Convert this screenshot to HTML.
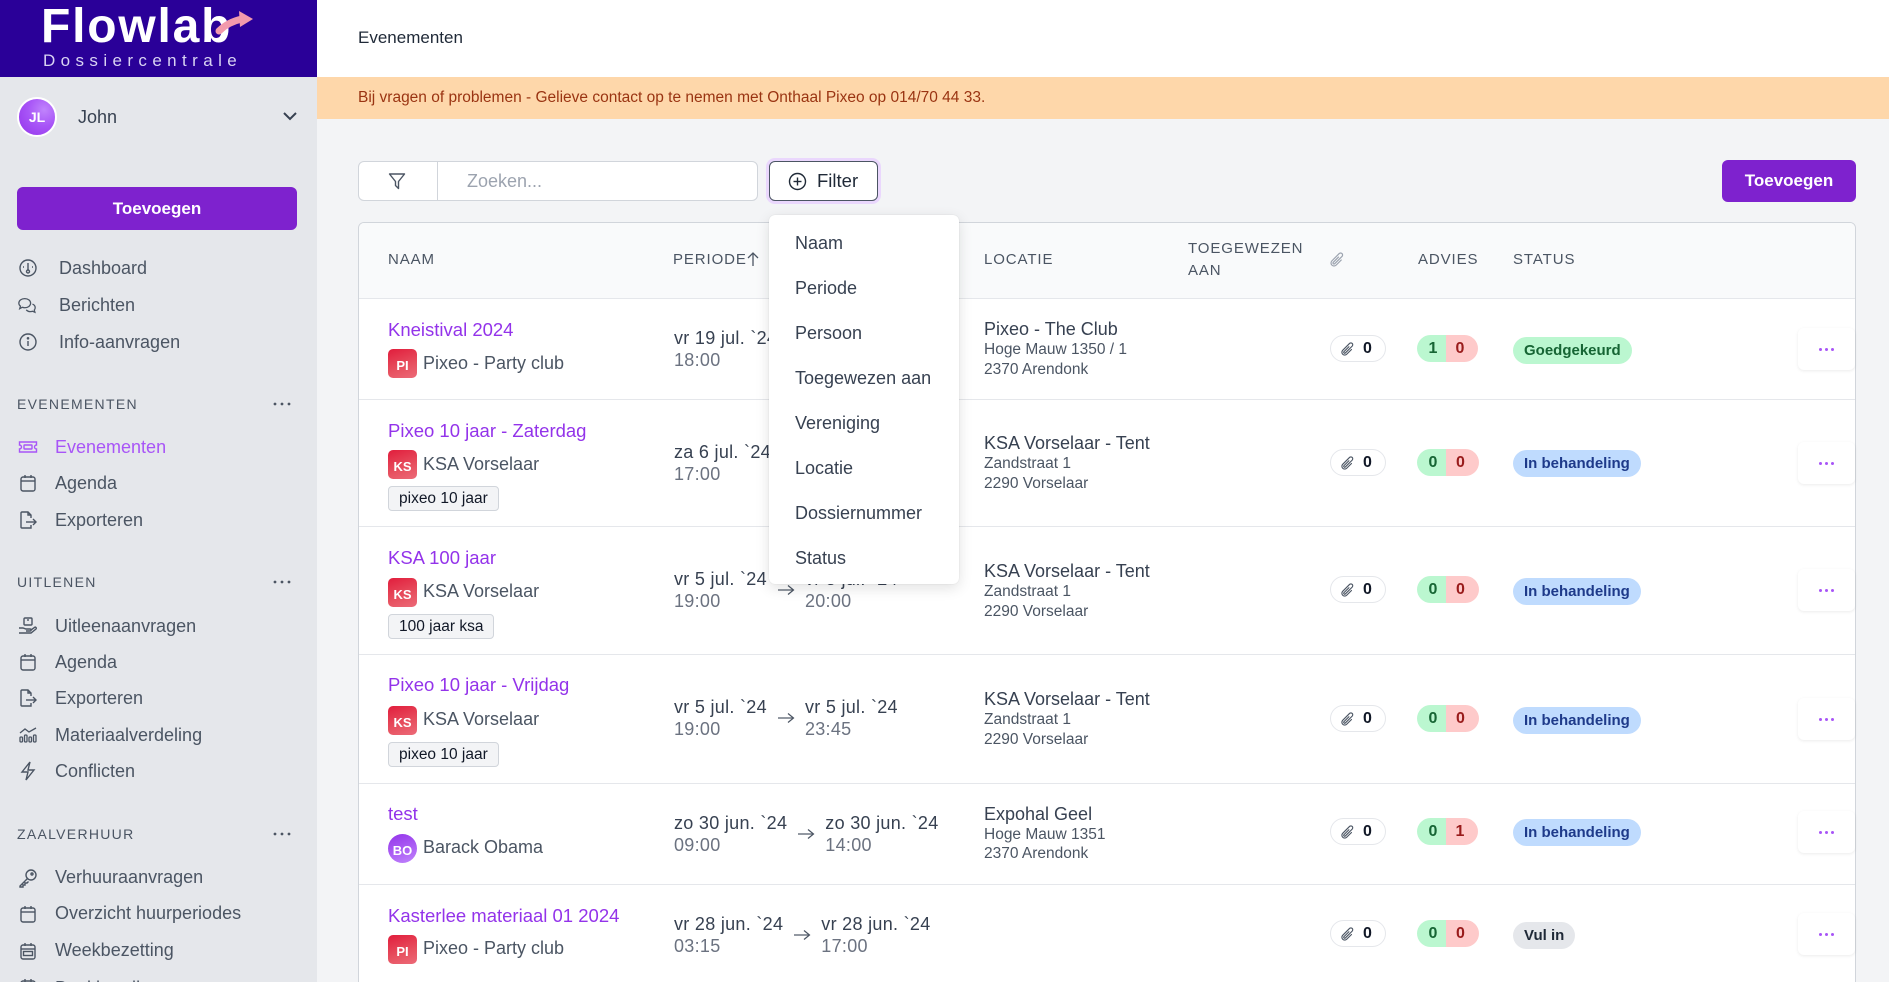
<!DOCTYPE html>
<html><head><meta charset="utf-8">
<style>
*{box-sizing:border-box;margin:0;padding:0}
html,body{width:1889px;height:982px;overflow:hidden}
body{background:#f3f4f6;font-family:"Liberation Sans",Arial,sans-serif;color:#374151}
#root{position:relative;width:1889px;height:982px;overflow:hidden;background:#f3f4f6}
.a{position:absolute;white-space:nowrap}
.nav{position:absolute;white-space:nowrap;font-size:18px;line-height:22px;color:#4b5563}
.ico{position:absolute;width:20px;height:20px}
.sec{position:absolute;font-size:14px;line-height:18px;letter-spacing:1.3px;color:#4b5563;font-weight:500}
.th{position:absolute;font-size:15px;line-height:18px;letter-spacing:0.9px;color:#4b5563;white-space:nowrap}
.name{position:absolute;font-size:18.5px;line-height:22px;color:#9333ea;white-space:nowrap}
.org{position:absolute;font-size:18px;line-height:22px;color:#4b5563;white-space:nowrap}
.av{position:absolute;width:29px;height:29px;border-radius:5px;background:linear-gradient(160deg,#e11d3c 0%,#e7505f 60%,#ec6a78 100%);color:#fff;font-size:13px;font-weight:bold;text-align:center;line-height:33px}
.tag{position:absolute;height:25px;border:1px solid #d1d5db;background:#f3f4f6;border-radius:4px;font-size:15.5px;line-height:23px;padding:0 10px;color:#111827;white-space:nowrap}
.per{position:absolute;display:flex;align-items:center;white-space:nowrap}
.per .d{font-size:18px;line-height:22px;color:#374151;letter-spacing:0.3px}
.per .tm{font-size:18px;line-height:22px;color:#6b7280;letter-spacing:0.3px}
.per svg{margin:0 10px 0 10px}
.loc{position:absolute;white-space:nowrap}
.loc .l1{font-size:18px;line-height:22px;color:#374151}
.loc .l2{font-size:15.5px;line-height:20px;color:#4b5563}
.att{position:absolute;left:1330px;width:56px;height:27px;border:1px solid #e5e7eb;border-radius:14px;background:#fff}
.att svg{position:absolute;left:9px;top:5px}
.att span{position:absolute;left:32px;top:0;line-height:25px;font-size:16px;font-weight:bold;color:#111827}
.adv{position:absolute;left:1417px;height:27px;border-radius:14px;overflow:hidden;display:flex;font-size:16px;font-weight:bold;line-height:27px}
.adv .g{background:#bbf7d0;color:#166534;width:29px;text-align:center;padding-left:3px}
.adv .r{background:#fecaca;color:#991b1b;width:33px;text-align:center;padding-right:4px}
.st{position:absolute;left:1513px;height:27px;border-radius:14px;font-size:15px;font-weight:bold;line-height:27px;padding:0 11px;white-space:nowrap}
.ok{background:#bbf7d0;color:#166534}
.ib{background:#bfdbfe;color:#1e3a8a}
.vi{background:#e5e7eb;color:#1f2937}
.dots{position:absolute;left:1798px;width:57px;height:42px;background:#fff;border-radius:6px;box-shadow:0 1px 3px rgba(0,0,0,0.08)}
.dots i{position:absolute;top:20px;width:3px;height:3px;border-radius:50%;background:#a855f7}
.hl{position:absolute;left:359px;width:1496px;height:1px;background:#e5e7eb}
.dd{position:absolute;font-size:18px;line-height:22px;color:#374151;white-space:nowrap;left:795px}
</style></head><body><div id="root">

<!-- Sidebar -->
<div class="a" style="left:0;top:0;width:317px;height:982px;background:#e5e7eb"></div>
<div class="a" style="left:0;top:0;width:317px;height:77px;background:#2a0098"></div>
<div class="a" style="left:41px;top:3px;font-size:48px;line-height:48px;font-weight:bold;color:#fff;letter-spacing:1.8px">Flowlab</div>
<svg class="a" style="left:0;top:0" width="317" height="77">
  <path d="M219 31 Q228 22 242 19" stroke="#f29aac" stroke-width="7" fill="none" stroke-linecap="round"/>
  <polygon points="239,11 253,19 240,27" fill="#f29aac"/>
</svg>
<div class="a" style="left:43px;top:51px;font-size:17px;line-height:20px;color:#d9d3f3;letter-spacing:5.4px">Dossiercentrale</div>

<div class="a" style="left:17px;top:97px;width:40px;height:40px;border-radius:50%;border:2px solid #fff;background:radial-gradient(circle at 70% 30%,#c084fc 0%,#a855f7 45%,#9333ea 100%);color:#fff;font-size:14px;font-weight:bold;text-align:center;line-height:37px">JL</div>
<div class="nav" style="left:78px;top:106px;color:#374151">John</div>
<svg class="a" style="left:282px;top:110px" width="16" height="12"><polyline points="2,3 8,9 14,3" fill="none" stroke="#374151" stroke-width="2"/></svg>

<div class="a" style="left:17px;top:187px;width:280px;height:43px;background:#7e22ce;border-radius:6px;color:#fff;font-weight:bold;font-size:17px;line-height:43px;text-align:center">Toevoegen</div>

<svg class="ico" style="left:18px;top:258px" viewBox="0 0 20 20" fill="none" stroke="#4b5563" stroke-width="1.4"><circle cx="10" cy="10" r="8"/><line x1="10" y1="5" x2="10" y2="12"/><circle cx="10" cy="13.5" r="1.5"/><line x1="5" y1="9" x2="6" y2="9"/><line x1="14" y1="9" x2="15" y2="9"/></svg>
<div class="nav" style="left:59px;top:257px">Dashboard</div>
<svg class="ico" style="left:17px;top:295px" viewBox="0 0 22 20" fill="none" stroke="#4b5563" stroke-width="1.4"><path d="M2 8c0-3 3-5 6.5-5S15 5 15 8s-3 5-6.5 5c-1 0-2-.2-2.8-.5L3 14l.8-2.7C2.7 10.5 2 9.3 2 8z"/><path d="M17 9c2 .8 3 2.3 3 4 0 1-.4 1.9-1 2.6l.7 2.4-2.5-1.1c-.8.3-1.6.4-2.5.4-2 0-3.6-.8-4.5-2"/></svg>
<div class="nav" style="left:59px;top:294px">Berichten</div>
<svg class="ico" style="left:18px;top:332px" viewBox="0 0 20 20" fill="none" stroke="#4b5563" stroke-width="1.4"><circle cx="10" cy="10" r="8"/><line x1="10" y1="9" x2="10" y2="14"/><circle cx="10" cy="6.3" r=".6" fill="#4b5563"/></svg>
<div class="nav" style="left:59px;top:331px">Info-aanvragen</div>

<div class="sec" style="left:17px;top:395px">EVENEMENTEN</div>
<svg class="a" style="left:272px;top:400px" width="20" height="8"><circle cx="3" cy="4" r="1.4" fill="#4b5563"/><circle cx="10" cy="4" r="1.4" fill="#4b5563"/><circle cx="17" cy="4" r="1.4" fill="#4b5563"/></svg>

<svg class="ico" style="left:18px;top:437px" viewBox="0 0 20 20" fill="none" stroke="#a855f7" stroke-width="1.4"><path d="M1.5 5h17v3a2 2 0 0 0 0 4v3h-17v-3a2 2 0 0 0 0-4z"/><rect x="6" y="8" width="8" height="4" rx=".5"/></svg>
<div class="nav" style="left:55px;top:436px;color:#a855f7">Evenementen</div>
<svg class="ico" style="left:18px;top:473px" viewBox="0 0 20 20" fill="none" stroke="#4b5563" stroke-width="1.4"><rect x="3" y="4" width="14" height="14" rx="2"/><line x1="3" y1="8" x2="17" y2="8"/><line x1="7" y1="2" x2="7" y2="5"/><line x1="13" y1="2" x2="13" y2="5"/></svg>
<div class="nav" style="left:55px;top:472px">Agenda</div>
<svg class="ico" style="left:18px;top:510px" viewBox="0 0 20 20" fill="none" stroke="#4b5563" stroke-width="1.4"><path d="M13 8V5l-3-3H4a1 1 0 0 0-1 1v14a1 1 0 0 0 1 1h9v-3"/><path d="M10 2v3h3"/><line x1="8" y1="12" x2="18" y2="12"/><polyline points="15,9 18,12 15,15"/></svg>
<div class="nav" style="left:55px;top:509px">Exporteren</div>

<div class="sec" style="left:17px;top:573px">UITLENEN</div>
<svg class="a" style="left:272px;top:578px" width="20" height="8"><circle cx="3" cy="4" r="1.4" fill="#4b5563"/><circle cx="10" cy="4" r="1.4" fill="#4b5563"/><circle cx="17" cy="4" r="1.4" fill="#4b5563"/></svg>

<svg class="ico" style="left:18px;top:616px" viewBox="0 0 20 20" fill="none" stroke="#4b5563" stroke-width="1.4"><rect x="6" y="2" width="8" height="7" rx="1"/><line x1="9" y1="4" x2="11" y2="4"/><path d="M1 12h4l3 1h4a1 1 0 0 1 0 2H8"/><path d="M1 17h12l5-4a1 1 0 0 0-1.5-1.5L13 14"/></svg>
<div class="nav" style="left:55px;top:615px">Uitleenaanvragen</div>
<svg class="ico" style="left:18px;top:652px" viewBox="0 0 20 20" fill="none" stroke="#4b5563" stroke-width="1.4"><rect x="3" y="4" width="14" height="14" rx="2"/><line x1="3" y1="8" x2="17" y2="8"/><line x1="7" y1="2" x2="7" y2="5"/><line x1="13" y1="2" x2="13" y2="5"/></svg>
<div class="nav" style="left:55px;top:651px">Agenda</div>
<svg class="ico" style="left:18px;top:688px" viewBox="0 0 20 20" fill="none" stroke="#4b5563" stroke-width="1.4"><path d="M13 8V5l-3-3H4a1 1 0 0 0-1 1v14a1 1 0 0 0 1 1h9v-3"/><path d="M10 2v3h3"/><line x1="8" y1="12" x2="18" y2="12"/><polyline points="15,9 18,12 15,15"/></svg>
<div class="nav" style="left:55px;top:687px">Exporteren</div>
<svg class="ico" style="left:18px;top:725px" viewBox="0 0 20 20" fill="none" stroke="#4b5563" stroke-width="1.3"><rect x="2" y="12" width="2.5" height="5" rx="1"/><rect x="6.5" y="10" width="2.5" height="7" rx="1"/><rect x="11" y="12" width="2.5" height="5" rx="1"/><rect x="15.5" y="10" width="2.5" height="7" rx="1"/><polyline points="2,8 7,4 11,7 18,3"/></svg>
<div class="nav" style="left:55px;top:724px">Materiaalverdeling</div>
<svg class="ico" style="left:18px;top:761px" viewBox="0 0 20 20" fill="none" stroke="#4b5563" stroke-width="1.4"><path d="M12 1L4 11h6l-2 8 8-10h-6z"/></svg>
<div class="nav" style="left:55px;top:760px">Conflicten</div>

<div class="sec" style="left:17px;top:825px">ZAALVERHUUR</div>
<svg class="a" style="left:272px;top:830px" width="20" height="8"><circle cx="3" cy="4" r="1.4" fill="#4b5563"/><circle cx="10" cy="4" r="1.4" fill="#4b5563"/><circle cx="17" cy="4" r="1.4" fill="#4b5563"/></svg>

<svg class="ico" style="left:18px;top:868px" viewBox="0 0 20 20" fill="none" stroke="#4b5563" stroke-width="1.4"><circle cx="13" cy="7" r="5"/><circle cx="14" cy="6" r="1"/><path d="M9.5 10.5L2 18v1h3v-2h2v-2h2l1.5-1.5"/></svg>
<div class="nav" style="left:55px;top:866px">Verhuuraanvragen</div>
<svg class="ico" style="left:18px;top:904px" viewBox="0 0 20 20" fill="none" stroke="#4b5563" stroke-width="1.4"><rect x="3" y="4" width="14" height="14" rx="2"/><line x1="3" y1="8" x2="17" y2="8"/><line x1="7" y1="2" x2="7" y2="5"/><line x1="13" y1="2" x2="13" y2="5"/></svg>
<div class="nav" style="left:55px;top:902px">Overzicht huurperiodes</div>
<svg class="ico" style="left:18px;top:941px" viewBox="0 0 20 20" fill="none" stroke="#4b5563" stroke-width="1.4"><rect x="3" y="4" width="14" height="14" rx="2"/><line x1="3" y1="8" x2="17" y2="8"/><rect x="5.5" y="10.5" width="9" height="4"/><line x1="7" y1="2" x2="7" y2="5"/><line x1="13" y1="2" x2="13" y2="5"/></svg>
<div class="nav" style="left:55px;top:939px">Weekbezetting</div>
<svg class="ico" style="left:18px;top:977px" viewBox="0 0 20 20" fill="none" stroke="#4b5563" stroke-width="1.4"><rect x="3" y="4" width="14" height="14" rx="2"/><line x1="7" y1="2" x2="7" y2="5"/><line x1="13" y1="2" x2="13" y2="5"/></svg>
<div class="nav" style="left:55px;top:977px">Boekhouding</div>

<!-- Top bar -->
<div class="a" style="left:317px;top:0;width:1572px;height:77px;background:#fff"></div>
<div class="a" style="left:358px;top:28px;font-size:17px;line-height:20px;color:#1f2937">Evenementen</div>
<div class="a" style="left:317px;top:77px;width:1572px;height:42px;background:#fed7aa"></div>
<div class="a" style="left:358px;top:88px;font-size:15.5px;line-height:20px;color:#9a3412">Bij vragen of problemen - Gelieve contact op te nemen met Onthaal Pixeo op 014/70 44 33.</div>

<!-- Search -->
<div class="a" style="left:358px;top:161px;width:400px;height:40px;background:#fff;border:1px solid #d1d5db;border-radius:6px"></div>
<div class="a" style="left:437px;top:162px;width:1px;height:38px;background:#d1d5db"></div>
<svg class="a" style="left:388px;top:172px" width="18" height="18" viewBox="0 0 18 18" fill="none" stroke="#4b5563" stroke-width="1.4" stroke-linejoin="round"><path d="M1.5 2h15l-6 7.5v7l-3-3v-4z"/></svg>
<div class="a" style="left:467px;top:170px;font-size:18px;line-height:22px;color:#9ca3af">Zoeken...</div>

<div class="a" style="left:769px;top:161px;width:109px;height:40px;background:#fff;border:1px solid #4b5563;border-radius:6px;box-shadow:0 0 0 3px #ead7fd"></div>
<svg class="a" style="left:788px;top:172px" width="19" height="19" viewBox="0 0 19 19" fill="none" stroke="#1f2937" stroke-width="1.4"><circle cx="9.5" cy="9.5" r="8"/><line x1="9.5" y1="5.5" x2="9.5" y2="13.5"/><line x1="5.5" y1="9.5" x2="13.5" y2="9.5"/></svg>
<div class="a" style="left:817px;top:170px;font-size:18.5px;line-height:22px;color:#1f2937">Filter</div>

<div class="a" style="left:1722px;top:160px;width:134px;height:42px;background:#7e22ce;border-radius:6px;color:#fff;font-weight:bold;font-size:17px;line-height:42px;text-align:center">Toevoegen</div>

<!-- Table -->
<div class="a" style="left:358px;top:222px;width:1498px;height:790px;background:#fff;border:1px solid #d1d5db;border-radius:6px;overflow:hidden">
  <div style="height:76px;background:#f9fafb;border-bottom:1px solid #e5e7eb"></div>
</div>
<div class="th" style="left:388px;top:251px">NAAM</div>
<div class="th" style="left:673px;top:251px">PERIODE</div>
<svg class="a" style="left:746px;top:251px" width="14" height="16" viewBox="0 0 14 16" fill="none" stroke="#4b5563" stroke-width="1.3"><line x1="7" y1="2" x2="7" y2="15"/><polyline points="2,7 7,2 12,7"/></svg>
<div class="th" style="left:984px;top:251px">LOCATIE</div>
<div class="th" style="left:1188px;top:240px">TOEGEWEZEN</div>
<div class="th" style="left:1188px;top:262px">AAN</div>
<svg class="a" style="left:1329px;top:251px" width="16" height="17" viewBox="0 0 24 24" fill="none" stroke="#9ca3af" stroke-width="1.8" stroke-linecap="round"><path d="M18.375 12.739l-7.693 7.693a4.5 4.5 0 01-6.364-6.364l10.94-10.94A3 3 0 1119.5 7.372L8.552 18.32m5.699-9.941l-7.81 7.81a1.5 1.5 0 002.112 2.13"/></svg>
<div class="th" style="left:1418px;top:251px">ADVIES</div>
<div class="th" style="left:1513px;top:251px">STATUS</div>

<div class="hl" style="top:399px"></div>
<div class="hl" style="top:526px"></div>
<div class="hl" style="top:654px"></div>
<div class="hl" style="top:783px"></div>
<div class="hl" style="top:884px"></div>

<!-- Row 1 -->
<div class="name" style="left:388px;top:319px">Kneistival 2024</div>
<div class="av" style="left:388px;top:349px">PI</div>
<div class="org" style="left:423px;top:352px">Pixeo - Party club</div>
<div class="per" style="left:674px;top:327px"><div><div class="d">vr 19 jul. `24</div><div class="tm">18:00</div></div><svg width="18" height="12"><line x1="1" y1="6" x2="16" y2="6" stroke="#4b5563" stroke-width="1.2"/><polyline points="11,1.5 16.5,6 11,10.5" fill="none" stroke="#4b5563" stroke-width="1.2"/></svg><div><div class="d">za 20 jul. `24</div><div class="tm">03:00</div></div></div>
<div class="loc" style="left:984px;top:318px"><div class="l1">Pixeo - The Club</div><div class="l2">Hoge Mauw 1350 / 1</div><div class="l2">2370 Arendonk</div></div>
<div class="att" style="top:335px"><svg width="15" height="16" viewBox="0 0 24 24" fill="none" stroke="#4b5563" stroke-width="1.8" stroke-linecap="round"><path d="M18.375 12.739l-7.693 7.693a4.5 4.5 0 01-6.364-6.364l10.94-10.94A3 3 0 1119.5 7.372L8.552 18.32m5.699-9.941l-7.81 7.81a1.5 1.5 0 002.112 2.13"/></svg><span>0</span></div>
<div class="adv" style="top:335px"><div class="g">1</div><div class="r" style="width:32px">0</div></div>
<div class="st ok" style="top:337px">Goedgekeurd</div>
<div class="dots" style="top:328px"><i style="left:21px"></i><i style="left:27px"></i><i style="left:33px"></i></div>

<!-- Row 2 -->
<div class="name" style="left:388px;top:420px">Pixeo 10 jaar - Zaterdag</div>
<div class="av" style="left:388px;top:450px">KS</div>
<div class="org" style="left:423px;top:453px">KSA Vorselaar</div>
<div class="tag" style="left:388px;top:486px">pixeo 10 jaar</div>
<div class="per" style="left:674px;top:441px"><div><div class="d">za 6 jul. `24</div><div class="tm">17:00</div></div><svg width="18" height="12"><line x1="1" y1="6" x2="16" y2="6" stroke="#4b5563" stroke-width="1.2"/><polyline points="11,1.5 16.5,6 11,10.5" fill="none" stroke="#4b5563" stroke-width="1.2"/></svg><div><div class="d">zo 7 jul. `24</div><div class="tm">03:00</div></div></div>
<div class="loc" style="left:984px;top:432px"><div class="l1">KSA Vorselaar - Tent</div><div class="l2">Zandstraat 1</div><div class="l2">2290 Vorselaar</div></div>
<div class="att" style="top:449px"><svg width="15" height="16" viewBox="0 0 24 24" fill="none" stroke="#4b5563" stroke-width="1.8" stroke-linecap="round"><path d="M18.375 12.739l-7.693 7.693a4.5 4.5 0 01-6.364-6.364l10.94-10.94A3 3 0 1119.5 7.372L8.552 18.32m5.699-9.941l-7.81 7.81a1.5 1.5 0 002.112 2.13"/></svg><span>0</span></div>
<div class="adv" style="top:449px"><div class="g">0</div><div class="r">0</div></div>
<div class="st ib" style="top:450px">In behandeling</div>
<div class="dots" style="top:442px"><i style="left:21px"></i><i style="left:27px"></i><i style="left:33px"></i></div>

<!-- Row 3 -->
<div class="name" style="left:388px;top:547px">KSA 100 jaar</div>
<div class="av" style="left:388px;top:578px">KS</div>
<div class="org" style="left:423px;top:580px">KSA Vorselaar</div>
<div class="tag" style="left:388px;top:614px">100 jaar ksa</div>
<div class="per" style="left:674px;top:568px"><div><div class="d">vr 5 jul. `24</div><div class="tm">19:00</div></div><svg width="18" height="12"><line x1="1" y1="6" x2="16" y2="6" stroke="#4b5563" stroke-width="1.2"/><polyline points="11,1.5 16.5,6 11,10.5" fill="none" stroke="#4b5563" stroke-width="1.2"/></svg><div><div class="d">vr 5 jul. `24</div><div class="tm">20:00</div></div></div>
<div class="loc" style="left:984px;top:560px"><div class="l1">KSA Vorselaar - Tent</div><div class="l2">Zandstraat 1</div><div class="l2">2290 Vorselaar</div></div>
<div class="att" style="top:576px"><svg width="15" height="16" viewBox="0 0 24 24" fill="none" stroke="#4b5563" stroke-width="1.8" stroke-linecap="round"><path d="M18.375 12.739l-7.693 7.693a4.5 4.5 0 01-6.364-6.364l10.94-10.94A3 3 0 1119.5 7.372L8.552 18.32m5.699-9.941l-7.81 7.81a1.5 1.5 0 002.112 2.13"/></svg><span>0</span></div>
<div class="adv" style="top:576px"><div class="g">0</div><div class="r">0</div></div>
<div class="st ib" style="top:578px">In behandeling</div>
<div class="dots" style="top:569px"><i style="left:21px"></i><i style="left:27px"></i><i style="left:33px"></i></div>

<!-- Row 4 -->
<div class="name" style="left:388px;top:674px">Pixeo 10 jaar - Vrijdag</div>
<div class="av" style="left:388px;top:706px">KS</div>
<div class="org" style="left:423px;top:708px">KSA Vorselaar</div>
<div class="tag" style="left:388px;top:742px">pixeo 10 jaar</div>
<div class="per" style="left:674px;top:696px"><div><div class="d">vr 5 jul. `24</div><div class="tm">19:00</div></div><svg width="18" height="12"><line x1="1" y1="6" x2="16" y2="6" stroke="#4b5563" stroke-width="1.2"/><polyline points="11,1.5 16.5,6 11,10.5" fill="none" stroke="#4b5563" stroke-width="1.2"/></svg><div><div class="d">vr 5 jul. `24</div><div class="tm">23:45</div></div></div>
<div class="loc" style="left:984px;top:688px"><div class="l1">KSA Vorselaar - Tent</div><div class="l2">Zandstraat 1</div><div class="l2">2290 Vorselaar</div></div>
<div class="att" style="top:705px"><svg width="15" height="16" viewBox="0 0 24 24" fill="none" stroke="#4b5563" stroke-width="1.8" stroke-linecap="round"><path d="M18.375 12.739l-7.693 7.693a4.5 4.5 0 01-6.364-6.364l10.94-10.94A3 3 0 1119.5 7.372L8.552 18.32m5.699-9.941l-7.81 7.81a1.5 1.5 0 002.112 2.13"/></svg><span>0</span></div>
<div class="adv" style="top:705px"><div class="g">0</div><div class="r">0</div></div>
<div class="st ib" style="top:707px">In behandeling</div>
<div class="dots" style="top:698px"><i style="left:21px"></i><i style="left:27px"></i><i style="left:33px"></i></div>

<!-- Row 5 -->
<div class="name" style="left:388px;top:803px">test</div>
<div class="av" style="left:388px;top:834px;border-radius:50%;background:linear-gradient(160deg,#9333ea,#c084fc)">BO</div>
<div class="org" style="left:423px;top:836px">Barack Obama</div>
<div class="per" style="left:674px;top:812px"><div><div class="d">zo 30 jun. `24</div><div class="tm">09:00</div></div><svg width="18" height="12"><line x1="1" y1="6" x2="16" y2="6" stroke="#4b5563" stroke-width="1.2"/><polyline points="11,1.5 16.5,6 11,10.5" fill="none" stroke="#4b5563" stroke-width="1.2"/></svg><div><div class="d">zo 30 jun. `24</div><div class="tm">14:00</div></div></div>
<div class="loc" style="left:984px;top:803px"><div class="l1">Expohal Geel</div><div class="l2">Hoge Mauw 1351</div><div class="l2" style="line-height:18px">2370 Arendonk</div></div>
<div class="att" style="top:818px"><svg width="15" height="16" viewBox="0 0 24 24" fill="none" stroke="#4b5563" stroke-width="1.8" stroke-linecap="round"><path d="M18.375 12.739l-7.693 7.693a4.5 4.5 0 01-6.364-6.364l10.94-10.94A3 3 0 1119.5 7.372L8.552 18.32m5.699-9.941l-7.81 7.81a1.5 1.5 0 002.112 2.13"/></svg><span>0</span></div>
<div class="adv" style="top:818px"><div class="g">0</div><div class="r" style="width:32px">1</div></div>
<div class="st ib" style="top:819px">In behandeling</div>
<div class="dots" style="top:811px"><i style="left:21px"></i><i style="left:27px"></i><i style="left:33px"></i></div>

<!-- Row 6 -->
<div class="name" style="left:388px;top:905px">Kasterlee materiaal 01 2024</div>
<div class="av" style="left:388px;top:935px">PI</div>
<div class="org" style="left:423px;top:937px">Pixeo - Party club</div>
<div class="per" style="left:674px;top:913px"><div><div class="d">vr 28 jun. `24</div><div class="tm">03:15</div></div><svg width="18" height="12"><line x1="1" y1="6" x2="16" y2="6" stroke="#4b5563" stroke-width="1.2"/><polyline points="11,1.5 16.5,6 11,10.5" fill="none" stroke="#4b5563" stroke-width="1.2"/></svg><div><div class="d">vr 28 jun. `24</div><div class="tm">17:00</div></div></div>
<div class="att" style="top:920px"><svg width="15" height="16" viewBox="0 0 24 24" fill="none" stroke="#4b5563" stroke-width="1.8" stroke-linecap="round"><path d="M18.375 12.739l-7.693 7.693a4.5 4.5 0 01-6.364-6.364l10.94-10.94A3 3 0 1119.5 7.372L8.552 18.32m5.699-9.941l-7.81 7.81a1.5 1.5 0 002.112 2.13"/></svg><span>0</span></div>
<div class="adv" style="top:920px"><div class="g">0</div><div class="r">0</div></div>
<div class="st vi" style="top:922px">Vul in</div>
<div class="dots" style="top:913px"><i style="left:21px"></i><i style="left:27px"></i><i style="left:33px"></i></div>

<!-- Dropdown -->
<div class="a" style="left:769px;top:215px;width:190px;height:369px;background:#fff;border-radius:6px;box-shadow:0 4px 14px rgba(0,0,0,0.12),0 0 1px rgba(0,0,0,0.15)"></div>
<div class="dd" style="top:232px">Naam</div>
<div class="dd" style="top:277px">Periode</div>
<div class="dd" style="top:322px">Persoon</div>
<div class="dd" style="top:367px">Toegewezen aan</div>
<div class="dd" style="top:412px">Vereniging</div>
<div class="dd" style="top:457px">Locatie</div>
<div class="dd" style="top:502px">Dossiernummer</div>
<div class="dd" style="top:547px">Status</div>

</div></body></html>
